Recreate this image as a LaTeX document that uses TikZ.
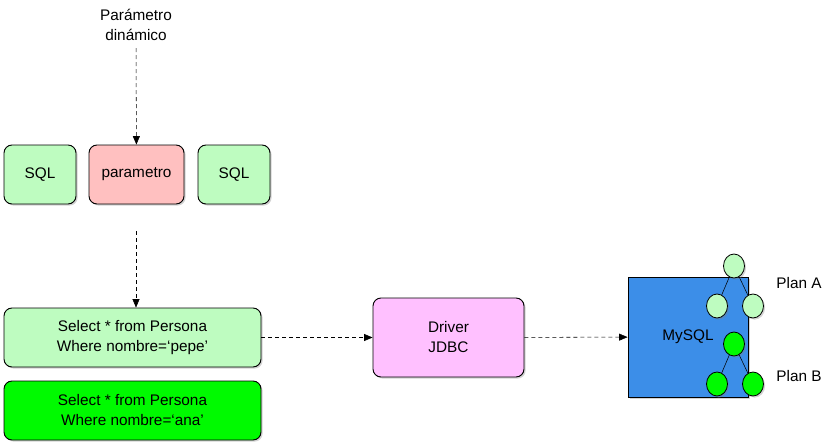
\documentclass[tikz,border=0pt]{standalone}
\usepackage{fontspec}
\setmainfont{Liberation Sans}
\usepackage{tikz}
\usetikzlibrary{arrows, shadows, shapes.geometric, positioning}
\definecolor{verdeclaro}{RGB}{190,252,192}
\definecolor{verde}{RGB}{0,250,0}
\definecolor{rosa}{RGB}{255,192,192}
\definecolor{lila}{RGB}{255,192,255}
\definecolor{azul}{RGB}{60,142,232}
\newcommand{\flecha}{\draw[dash pattern=on 3pt off 2.25pt,->]}

\begin{document}
\begin{tikzpicture}[>=triangle 45, x=0.75pt, y=-0.75pt,
  font=\fontsize{11.5}{15}\selectfont,
  sombra/.style={drop shadow={opacity=.35, shadow xshift=1.2pt, shadow yshift=-1.2pt}},
  caja/.style={draw, line width=0.7pt, rounded corners=6pt, align=center, inner sep=0pt, sombra},
  hoja/.style={draw, line width=0.6pt, ellipse, minimum width=15.75pt, minimum height=18pt, inner sep=0pt, sombra}]
%\draw[color=blue] (0,0) grid[step=50] (828,446); %grid
\useasboundingbox (0,0) rectangle (828,446);
% Consulta con parametro
\node (param) at (136,25) [align=center] {Parámetro\\dinámico};
\node (sql1) at (40,174.5) [caja, fill=verdeclaro, minimum width=54pt, minimum height=44.25pt] {SQL};
\node (parametro) at (136.5,174.5) [caja, fill=rosa, minimum width=71.25pt, minimum height=44.25pt] {parametro};
\node (sql2) at (234,174.5) [caja, fill=verdeclaro, minimum width=54pt, minimum height=44.25pt] {SQL};
\flecha[shorten <=2pt] (param) -- (parametro);
% Consultas generadas
\node (pepe) at (132.5,337.5) [caja, fill=verdeclaro, minimum width=192.75pt, minimum height=44.25pt] {Select * from Persona\\Where nombre=‘pepe’};
\node (ana) at (132.5,410.5) [caja, fill=verde, minimum width=192.75pt, minimum height=44.25pt] {Select * from Persona\\Where nombre=‘ana’};
\coordinate (c1) at (136,231);
\flecha (c1) -- (c1 |- pepe.north);
% Driver y base de datos
\node (driver) at (448.5,337.5) [caja, fill=lila, minimum width=113.25pt, minimum height=59.25pt] {Driver\\JDBC};
\node (mysql) at (688,337) [draw, line width=0.7pt, fill=azul, minimum size=90pt, sombra] {MySQL};
\flecha (pepe) -- (driver);
\flecha (driver) -- (mysql);
% Planes de ejecucion
\node (a1) at (734,266) [hoja, fill=verdeclaro] {};
\node (a2) at (717,306) [hoja, fill=verdeclaro] {};
\node (a3) at (753,306) [hoja, fill=verdeclaro] {};
\node (b1) at (734,344) [hoja, fill=verde] {};
\node (b2) at (717,384) [hoja, fill=verde] {};
\node (b3) at (753,384) [hoja, fill=verde] {};
\draw (a1) -- (a2) (a1) -- (a3) (b1) -- (b2) (b1) -- (b3);
\node (planA) at (799,283) {Plan A};
\node (planB) at (799,376) {Plan B};
\end{tikzpicture}
\end{document}
